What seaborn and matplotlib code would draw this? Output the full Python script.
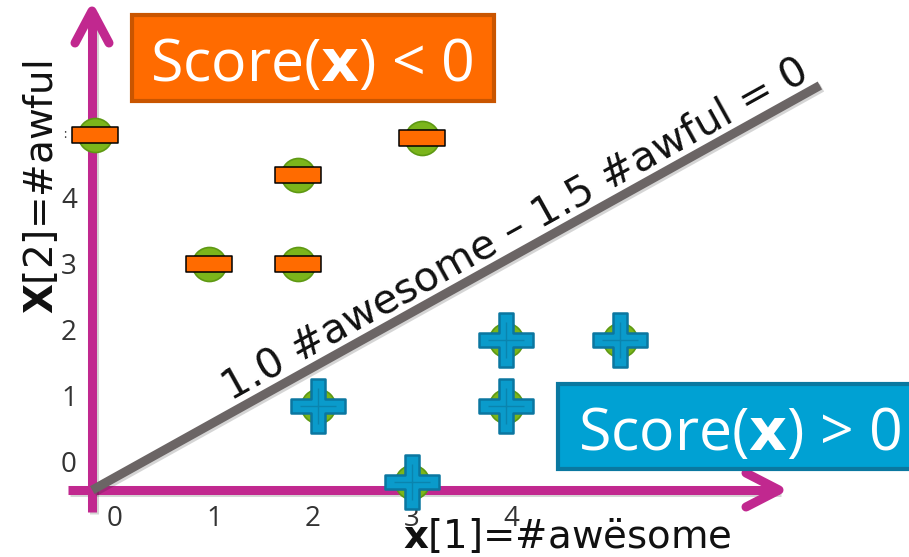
import matplotlib
matplotlib.use("Agg")
import numpy as np
import pandas as pd
import matplotlib.pyplot as plt
import seaborn as sns
from matplotlib.path import Path
from matplotlib.patches import Rectangle
import matplotlib.patheffects as pe

# ---------------- data ----------------
neg_awesome = [-0.2, 0.95, 1.85, 1.85, 3.1]
neg_awful = [5.0, 3.05, 3.05, 4.4, 4.95]
pos_awesome = [2.05, 3.0, 3.95, 3.95, 5.1]
pos_awful = [0.9, -0.25, 1.9, 0.9, 1.9]
x_ticks = [0, 1, 2, 3, 4]
x_tick_labels = ["0", "1", "2", "3", "4"]
y_ticks = [0, 1, 2, 3, 4, 5]
y_tick_labels = ["0", "1", "2", "3", "4", ":"]
boundary_awesome = [-0.23, 7.12]
boundary_awful = [-0.38, 5.75]
boundary_text = "1.0 #awesome \u2013 1.5 #awful = 0"
x_label = r"$\mathbf{x}$[1]=#aw" + "\u00eb" + "some"
y_label = r"$\mathbf{X}$[2]=#awful"
neg_box_text = r"Score($\mathbf{x}$) < 0"
pos_box_text = r"Score($\mathbf{x}$) > 0"

# ---------------- style ----------------
sns.set_theme(style="white")
plt.rcParams["font.family"] = ["DejaVu Sans"]
plt.rcParams["mathtext.fontset"] = "custom"
plt.rcParams["mathtext.rm"] = "DejaVu Sans"
plt.rcParams["mathtext.bf"] = "DejaVu Sans:bold"

MAGENTA = "#C1288F"
GRAY = "#6B6565"
GREEN = "#7BB51B"
GREEN_EDGE = "#5E9913"
ORANGE = "#FF6B00"
ORANGE_EDGE = "#C95500"
BLUE = "#0A9BCB"
BLUE_EDGE = "#0B76A0"
BOX_BLUE = "#00A1D3"
BOX_BLUE_EDGE = "#0A78A0"

W, H = 909, 557
fig = plt.figure(figsize=(W / 100, H / 100), dpi=100)
ax = fig.add_axes([0, 0, 1, 1])
X0, XS = 115, 99   # pixel of awesome=0, pixels per unit
Y0, YS = 465, 66   # pixel of awful=0, pixels per unit
ax.set_xlim(-X0 / XS, (W - X0) / XS)
ax.set_ylim((Y0 - H) / YS, Y0 / YS)
ax.axis("off")


def P(px, py):
    return (px - X0) / XS, (Y0 - py) / YS


shadow = [pe.SimpleLineShadow(offset=(1.5, -1.5), shadow_color="k", alpha=0.18), pe.Normal()]

# ---------------- magenta axes with arrows ----------------
ox, oy = P(92, 490)
lw_axis = 6.5
x_start = P(68, 490)[0]
x_tip = P(779, 490)[0]
y_bottom = P(92, 512)[1]
y_tip = P(92, 11)[1]
ax.plot([x_start, x_tip], [oy, oy], color=MAGENTA, lw=lw_axis, solid_capstyle="butt", path_effects=shadow, zorder=2)
ax.plot([ox, ox], [y_bottom, y_tip], color=MAGENTA, lw=lw_axis, solid_capstyle="butt", path_effects=shadow, zorder=2)
cx = [P(746, 473)[0], x_tip, P(746, 507)[0]]
cy = [P(746, 473)[1], oy, P(746, 507)[1]]
ax.plot(cx, cy, color=MAGENTA, lw=lw_axis, solid_capstyle="round", solid_joinstyle="round", zorder=2)
ux = [P(75, 43)[0], ox, P(109, 43)[0]]
uy = [P(75, 43)[1], y_tip, P(109, 43)[1]]
ax.plot(ux, uy, color=MAGENTA, lw=lw_axis, solid_capstyle="round", solid_joinstyle="round", zorder=2)

# ---------------- tick labels ----------------
tick_color = "#333333"
for v, lab in zip(x_ticks, x_tick_labels):
    ax.text(v, P(0, 519)[1], lab, ha="center", va="center", fontsize=20,
            family="Open Sans", color=tick_color, zorder=3)
for v, lab in zip(y_ticks, y_tick_labels):
    if lab == ":":
        ax.text(P(66, 0)[0], v, lab, ha="right", va="center", fontsize=9,
                family="Open Sans", color=tick_color, zorder=3)
    else:
        ax.text(P(77, 0)[0], v, lab, ha="right", va="center", fontsize=20,
                family="Open Sans", color=tick_color, zorder=3)

# ---------------- decision boundary ----------------
bdf = pd.DataFrame({"awesome": boundary_awesome, "awful": boundary_awful})
sns.lineplot(data=bdf, x="awesome", y="awful", ax=ax, color=GRAY, lw=6.5,
             solid_capstyle="butt", path_effects=shadow, zorder=4, legend=False)

p1 = ax.transData.transform((boundary_awesome[0], boundary_awful[0]))
p2 = ax.transData.transform((boundary_awesome[1], boundary_awful[1]))
ang = np.degrees(np.arctan2(p2[1] - p1[1], p2[0] - p1[0]))
ax.annotate(boundary_text, xy=P(236, 410), xytext=(-3.5, 7.0), textcoords="offset points",
            rotation=ang, rotation_mode="anchor", ha="left", va="baseline",
            fontsize=29.5, color="#111111", zorder=5)

# ---------------- points ----------------
pts = pd.DataFrame({
    "awesome": neg_awesome + pos_awesome,
    "awful": neg_awful + pos_awful,
})
sns.scatterplot(data=pts, x="awesome", y="awful", ax=ax, marker="o", s=600,
                color=GREEN, edgecolor=GREEN_EDGE, linewidth=1.2, zorder=6, legend=False)

h = 0.36
minus_path = Path([(-1, -h), (1, -h), (1, h), (-1, h), (-1, -h)],
                  [Path.MOVETO, Path.LINETO, Path.LINETO, Path.LINETO, Path.CLOSEPOLY])
t = 0.26
plus_verts = [(-t, -1), (t, -1), (t, -t), (1, -t), (1, t), (t, t), (t, 1), (-t, 1),
              (-t, t), (-1, t), (-1, -t), (-t, -t), (-t, -1)]
plus_path = Path(plus_verts, [Path.MOVETO] + [Path.LINETO] * 11 + [Path.CLOSEPOLY])

neg_df = pd.DataFrame({"awesome": neg_awesome, "awful": neg_awful})
pos_df = pd.DataFrame({"awesome": pos_awesome, "awful": pos_awful})
sns.scatterplot(data=neg_df, x="awesome", y="awful", ax=ax, marker=minus_path, s=1145,
                color=ORANGE, edgecolor="black", linewidth=1.1, zorder=7, legend=False)
sns.scatterplot(data=pos_df, x="awesome", y="awful", ax=ax, marker=plus_path, s=1500,
                color=BLUE, edgecolor=BLUE_EDGE, linewidth=1.8, zorder=7, legend=False)
ax.scatter(pos_awesome, pos_awful, marker="+", s=700, color="#0A84AE", linewidths=1.0, zorder=8)

# ---------------- region boxes ----------------
x1, y1 = P(132, 101)
x2, y2 = P(494, 15)
ax.add_patch(Rectangle((x1, y1), x2 - x1, y2 - y1, facecolor=ORANGE, edgecolor=ORANGE_EDGE,
                       lw=3, zorder=9))
ax.text(*P(312, 81), neg_box_text, ha="center", va="baseline", fontsize=42.5, color="white",
        family="Open Sans", zorder=10)

x1, y1 = P(558, 469)
x2, y2 = P(925, 384)
ax.add_patch(Rectangle((x1, y1), x2 - x1, y2 - y1, facecolor=BOX_BLUE, edgecolor=BOX_BLUE_EDGE,
                       lw=3, zorder=9, clip_on=True))
ax.text(*P(740, 450), pos_box_text, ha="center", va="baseline", fontsize=42.5, color="white",
        family="Open Sans", zorder=10)

# ---------------- axis titles ----------------
ax.text(*P(403, 548), x_label, ha="left", va="baseline", fontsize=27.8, color="#111111", zorder=10)
ax.text(*P(53, 187), y_label, ha="center", va="baseline", rotation=90, rotation_mode="anchor",
        fontsize=28, color="#111111", zorder=10)

fig.savefig("out.png", dpi=100)
